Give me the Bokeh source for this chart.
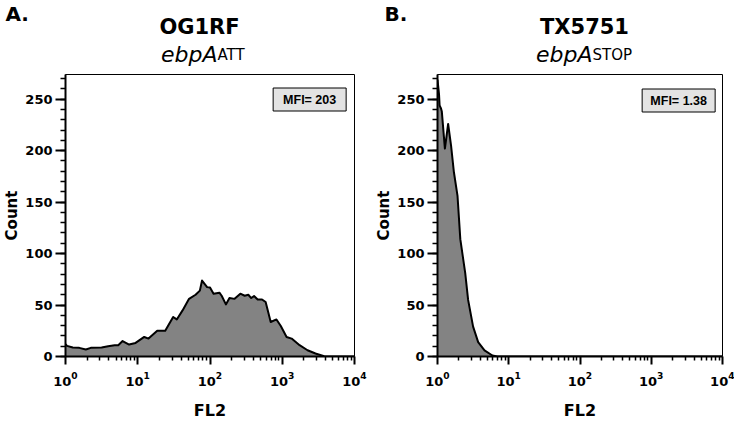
from bokeh.plotting import figure
from bokeh.layouts import row, column
from bokeh.models import Range1d, FixedTicker, SingleIntervalTicker, LogTickFormatter
from bokeh.core.properties import value
from bokeh.embed import file_html
from bokeh.resources import INLINE

# ---------------- data ----------------
# Panel A: OG1RF ebpA(ATT) -- FL2 fluorescence vs event count
fl2_a = [1.0, 1.05, 1.26, 1.55, 1.91, 2.24, 3.16, 3.89, 4.79, 5.37, 6.17, 7.59, 9.33,
         12.3, 14.1, 18.6, 24.0, 30.9, 34.7, 41.7, 51.3, 63.1, 72.4, 77.6, 91.2, 100,
         112, 135, 145, 166, 186, 219, 263, 302, 339, 372, 407, 457, 525, 589, 631,
         692, 832, 955, 1148, 1349, 1738, 2239, 2884, 3802, 4467, 10000]
count_a = [12, 10.3, 8.7, 8.4, 6.8, 8.4, 8.7, 10, 11, 11, 15, 11.6, 13.2,
           19, 17.4, 25, 25, 38.4, 36, 44.8, 56, 60, 64, 73.8, 67.4, 67,
           61, 62, 59, 50.6, 56.8, 56, 61, 59, 60, 56.8, 58.7, 55.4, 55.4, 52.9, 44.8,
           33.5, 36, 29.7, 19, 17.4, 11, 6.1, 2.9, 0.3, 0, 0]

# Panel B: TX5751 ebpA(STOP)
fl2_b = [1.0, 1.05, 1.07, 1.12, 1.15, 1.27, 1.41, 1.55, 1.70, 1.91, 2.09, 2.45, 2.69,
         3.16, 3.72, 4.57, 5.89, 6.92, 10000]
count_b = [269, 255, 244, 241, 238, 202, 226, 205, 179, 156, 114, 81, 55,
           29, 14, 6, 1, 0, 0]

x_ticks = [1, 10, 100, 1000, 10000]
y_interval = 50
y_max = 274

panel_letters = ["A.", "B."]
strain_names = ["OG1RF", "TX5751"]
gene_names = ["ebpA", "ebpA"]
allele_tags = ["ATT", "STOP"]
mfi_labels = ["MFI= 203", "MFI= 1.38"]

# ---------------- layout constants (pixels) ----------------
TOTAL_W = 734
HDR_H = 66
FRAME_H = 282
TOP = 8
BOTTOM = 68
MAIN_H = TOP + FRAME_H + BOTTOM
FONT = "DejaVu Sans"

# header positions (header pixel coordinates, y measured up from header bottom)
letter_x = [5, 384]
letter_y = 53
strain_x = [199, 584]
strain_y = 40
junction_x = [217, 592]
gene_y = 12

# ---------------- header (titles) ----------------
hdr = figure(width=TOTAL_W, height=HDR_H, x_range=Range1d(0, TOTAL_W),
             y_range=Range1d(0, HDR_H), output_backend="svg", toolbar_location=None,
             x_axis_location=None, y_axis_location=None, min_border=0)
hdr.grid.visible = False
hdr.outline_line_color = None
hdr.text(x=letter_x, y=[letter_y] * 2, text=panel_letters, text_font=value(FONT),
         text_font_style="bold", text_font_size="20px", text_align="left",
         text_baseline="alphabetic", text_color="black")
hdr.text(x=strain_x, y=[strain_y] * 2, text=strain_names, text_font=value(FONT),
         text_font_style="bold", text_font_size="21px", text_align="center",
         text_baseline="alphabetic", text_color="black")
hdr.text(x=junction_x, y=[gene_y] * 2, text=gene_names, text_font=value(FONT),
         text_font_style="italic", text_font_size="22px", text_align="right",
         text_baseline="alphabetic", text_color="black")
hdr.text(x=junction_x, y=[gene_y] * 2, text=allele_tags, text_font=value(FONT),
         text_font_style="normal", text_font_size="15px", text_align="left",
         text_baseline="alphabetic", text_color="black")


def make_panel(i, fl2, counts, border_left, frame_w, border_right, box_dx, box_dy):
    def xd(px):  # pixel offset from frame left -> data x on the log axis
        return 10 ** (4.0 * px / frame_w)

    def yd(py):  # pixel offset from frame bottom -> data y
        return y_max * py / FRAME_H

    p = figure(width=border_left + frame_w + border_right, height=MAIN_H,
               x_axis_type="log", x_range=Range1d(x_ticks[0], x_ticks[-1]),
               y_range=Range1d(0, y_max),
               output_backend="svg", toolbar_location=None,
               min_border_left=border_left, min_border_right=border_right,
               min_border_top=TOP, min_border_bottom=BOTTOM)
    p.grid.visible = False
    p.outline_line_color = "black"
    p.outline_line_width = 1
    p.background_fill_color = "white"
    p.border_fill_color = "white"

    p.varea(x=fl2, y1=0, y2=counts, fill_color="#838383")
    p.line(x=fl2, y=counts, line_color="black", line_width=2, line_join="round")

    # MFI box
    bx, by = xd(frame_w - box_dx), yd(FRAME_H - box_dy)
    p.rect(x=[bx], y=[by], width=73, height=23, width_units="screen",
           height_units="screen", fill_color="#e3e3e3", line_color="black", line_width=1)
    p.text(x=[bx], y=[by], text=[mfi_labels[i]], text_font=value("Liberation Sans"),
           text_font_style="bold", text_font_size="12.5px", text_align="center",
           text_baseline="middle", text_color="black")

    xa = p.xaxis[0]
    minor = [m * t for t in x_ticks[:-1] for m in range(2, 10)]
    xa.ticker = FixedTicker(ticks=x_ticks, minor_ticks=minor)
    xa.formatter = LogTickFormatter()
    ya = p.yaxis[0]
    ya.ticker = SingleIntervalTicker(interval=y_interval, num_minor_ticks=5)

    for ax in (xa, ya):
        ax.axis_line_width = 2
        ax.axis_line_color = "black"
        ax.major_tick_line_width = 2
        ax.major_tick_line_color = "black"
        ax.minor_tick_line_color = "black"
        ax.minor_tick_line_width = 1.5
        ax.major_tick_in = 0
        ax.minor_tick_in = 0
        ax.major_label_text_font = FONT
        ax.major_label_text_font_style = "bold"
        ax.major_label_text_font_size = "13px"
        ax.major_label_text_color = "black"
        ax.axis_label_text_font = FONT
        ax.axis_label_text_font_style = "bold"
        ax.axis_label_text_font_size = "16px"
        ax.axis_label_text_color = "black"
    xa.major_tick_out = 8
    xa.minor_tick_out = 4
    xa.major_label_standoff = 7
    xa.axis_label = "FL2"
    xa.axis_label_standoff = 12
    ya.major_tick_out = 10
    ya.minor_tick_out = 5
    ya.major_label_standoff = 3
    ya.axis_label = "Count"
    ya.axis_label_standoff = 1
    ya.axis_label_text_font_size = "15px"
    return p


p1 = make_panel(0, fl2_a, count_a, 64, 290, 18, box_dx=45, box_dy=25)
p2 = make_panel(1, fl2_b, count_b, 64, 286, 12, box_dx=44, box_dy=26)

layout = column(hdr, row(p1, p2))
open("out.html", "w").write(file_html(layout, INLINE))
